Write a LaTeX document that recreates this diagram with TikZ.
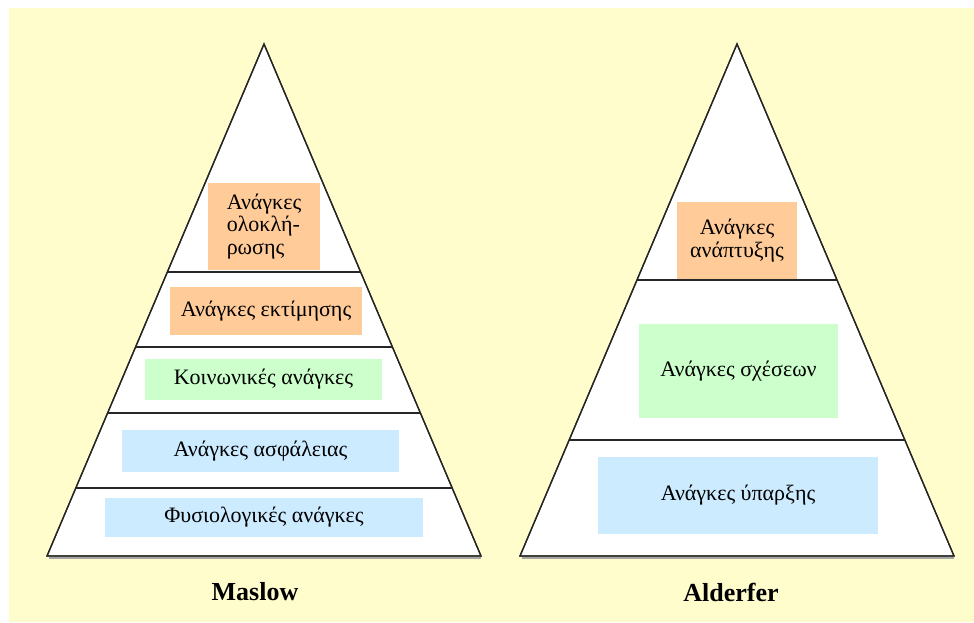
\documentclass[tikz,border=0pt]{standalone}
\usepackage{fontspec}
\setmainfont{Liberation Serif}
\usetikzlibrary{calc}
\definecolor{paper}{HTML}{FFFDCC}
\definecolor{needorange}{HTML}{FFCC99}
\definecolor{needgreen}{HTML}{CCFFCC}
\definecolor{needblue}{HTML}{CCEBFF}
\begin{document}
\begin{tikzpicture}[x=1pt,y=-1pt,
  pyr/.style={draw=black!85,line width=1.3pt,fill=white,line join=miter},
  level/.style={draw=black!85,line width=1.3pt},
  needbox/.style={rectangle,inner sep=0pt,align=center,font=\fontsize{22}{22.5}\selectfont},
  title/.style={font=\fontsize{26}{28}\selectfont\bfseries}]
\useasboundingbox (0,0) rectangle (974,623);
\fill[paper] (9,8) rectangle (974,622);

% Maslow pyramid
\coordinate (mA) at (264,44);
\coordinate (mL) at (47,556);
\coordinate (mR) at (481,556);
\draw[pyr] (mA) -- (mR) -- (mL) -- cycle;
\draw[black!35,line width=1.5pt] ($(mL)+(2,2)$) -- ($(mR)+(0,2)$);

\node[needbox,fill=needorange,minimum width=112,minimum height=87,align=left] (m5) at (264,226.5) {Ανάγκες\\ολοκλή-\\ρωσης};
\node[needbox,fill=needorange,minimum width=192,minimum height=48] (m4) at (266,311) {Ανάγκες εκτίμησης};
\node[needbox,fill=needgreen,minimum width=237,minimum height=41] (m3) at (263.5,379.5) {Κοινωνικές ανάγκες};
\node[needbox,fill=needblue,minimum width=277,minimum height=42] (m2) at (260.5,451) {Ανάγκες ασφάλειας};
\node[needbox,fill=needblue,minimum width=318,minimum height=39] (m1) at (264,517.5) {Φυσιολογικές ανάγκες};

\foreach \t in {0.4453,0.5918,0.7207,0.8672}
  \draw[level] ($(mA)!\t!(mL)$) -- ($(mA)!\t!(mR)$);
\draw[pyr,fill=none] (mA) -- (mR) -- (mL) -- cycle;

\node[title] (maslow) at (255,592) {Maslow};

% Alderfer pyramid
\coordinate (aA) at (737,44);
\coordinate (aL) at (520,556);
\coordinate (aR) at (954,556);
\draw[pyr] (aA) -- (aR) -- (aL) -- cycle;
\draw[black!35,line width=1.5pt] ($(aL)+(2,2)$) -- ($(aR)+(0,2)$);

\node[needbox,fill=needorange,minimum width=120,minimum height=77] (a3) at (737,240.5) {Ανάγκες\\ανάπτυξης};
\node[needbox,fill=needgreen,minimum width=199,minimum height=94] (a2) at (738.5,371) {Ανάγκες σχέσεων};
\node[needbox,fill=needblue,minimum width=280,minimum height=77] (a1) at (738,495.5) {Ανάγκες ύπαρξης};

\foreach \t in {0.4609,0.7734}
  \draw[level] ($(aA)!\t!(aL)$) -- ($(aA)!\t!(aR)$);
\draw[pyr,fill=none] (aA) -- (aR) -- (aL) -- cycle;

\node[title] (alderfer) at (731,592) {Alderfer};
\end{tikzpicture}
\end{document}
